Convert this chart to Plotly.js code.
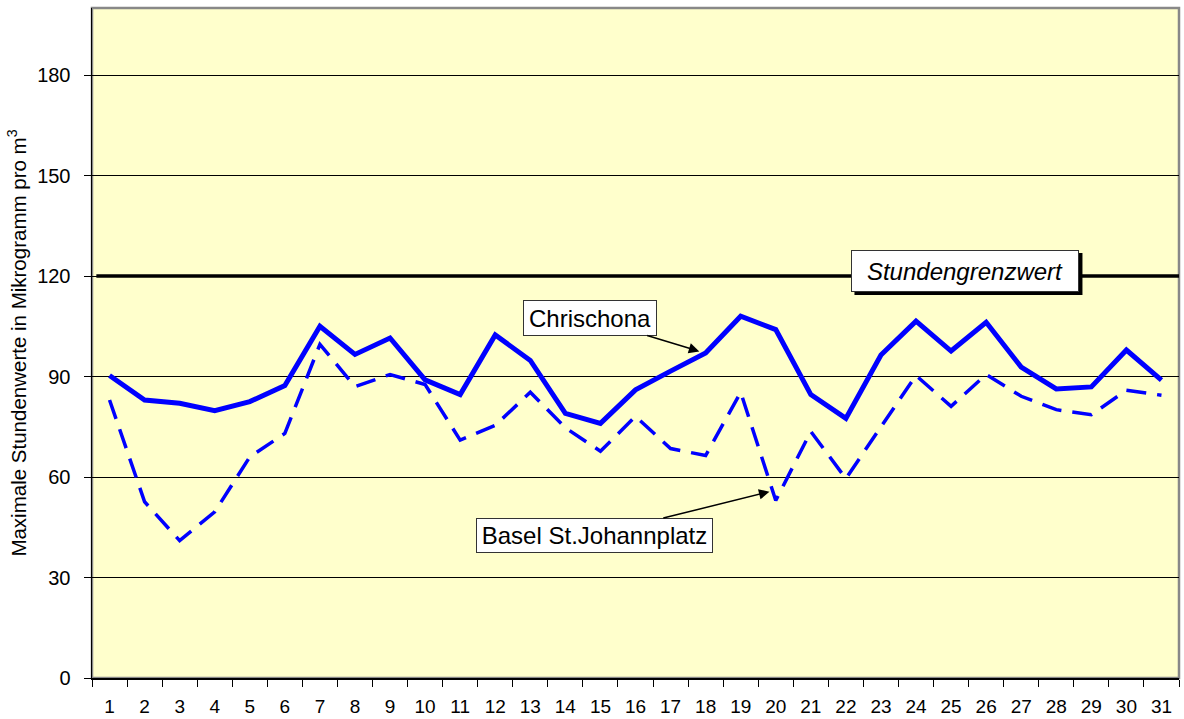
<!DOCTYPE html>
<html>
<head>
<meta charset="utf-8">
<script src="https://cdn.plot.ly/plotly-3.0.1.min.js"></script>
<style>html,body{margin:0;padding:0;background:#fff;}#chart{width:1184px;height:719px;}</style>
</head>
<body>
<div id="chart"></div>
<script>
const days = ['1','2','3','4','5','6','7','8','9','10','11','12','13','14','15','16','17','18','19','20','21','22','23','24','25','26','27','28','29','30','31'];
const chrischona = [90.3, 83, 82, 79.8, 82.5, 87.3, 105, 96.6, 101.5, 89, 84.6, 102.4, 94.8, 79, 76, 86, 91.6, 97, 108, 104, 84.6, 77.5, 96.4, 106.5, 97.6, 106.2, 92.8, 86.3, 86.9, 97.9, 88.9];
const basel = [83, 52.6, 41, 49.6, 66, 73, 99.6, 87, 90.6, 87.6, 71, 75.4, 85.3, 74.7, 67.7, 78.1, 68.5, 66.4, 85.3, 53, 73.6, 59.5, 75, 90.3, 81.1, 90.6, 84.1, 80.1, 78.6, 85.9, 84.4];
const limitValue = 120;
const limitLabel = 'Stundengrenzwert';
const yTitle = 'Maximale Stundenwerte in Mikrogramm pro m<sup>3</sup>';

const font = 'Liberation Sans, Arial, sans-serif';

const traces = [
  {x: days, y: basel, type: 'scatter', mode: 'lines', name: 'Basel St.Johannplatz',
   line: {color: '#0000FF', width: 3.5, dash: '20px,11px'}},
  {x: days, y: chrischona, type: 'scatter', mode: 'lines', name: 'Chrischona',
   line: {color: '#0000FF', width: 5}}
];

const limitX = 24.41, limitY = 121.5;

const layout = {
  width: 1184, height: 719,
  margin: {l: 92, r: 5, t: 8, b: 41},
  paper_bgcolor: '#FFFFFF',
  plot_bgcolor: '#FFFFCC',
  showlegend: false,
  font: {family: font, size: 20, color: '#000'},
  xaxis: {
    type: 'category', range: [-0.5, 30.5], tickson: 'boundaries',
    ticks: 'outside', ticklen: 7, tickcolor: '#000', tickwidth: 1,
    showline: true, linecolor: '#000', linewidth: 1.5,
    showgrid: false, zeroline: false,
    tickfont: {family: font, size: 19, color: '#000'},
    ticklabelstandoff: 11
  },
  yaxis: {
    range: [0, 200], dtick: 30, tick0: 0,
    ticks: 'outside', ticklen: 7, tickcolor: '#000', tickwidth: 1,
    showline: true, linecolor: '#000', linewidth: 1.5,
    showgrid: true, gridcolor: '#000', gridwidth: 1,
    zeroline: false,
    tickfont: {family: font, size: 20, color: '#000'},
    ticklabelstandoff: 9,
    title: {text: yTitle, font: {family: font, size: 20.5, color: '#000'}, standoff: 5}
  },
  shapes: [
    {type: 'rect', xref: 'paper', yref: 'paper', x0: 0, x1: 1, y0: 0, y1: 1,
     line: {color: '#888888', width: 2.5}, layer: 'below'},
    {type: 'line', xref: 'paper', yref: 'y', x0: 0.004, x1: 1, y0: limitValue, y1: limitValue,
     line: {color: '#000', width: 3.5}, layer: 'above'},
    {type: 'rect', xref: 'x', yref: 'y', xsizemode: 'pixel', ysizemode: 'pixel',
     xanchor: limitX, yanchor: limitY, x0: -111, x1: 117, y0: -24, y1: 18,
     fillcolor: '#000', line: {color: '#000', width: 0}, layer: 'above'}
  ],
  annotations: [
    {xref: 'x', yref: 'y', x: 16.82, y: 97.5, ax: -109.6, ay: -33.4, axref: 'pixel', ayref: 'pixel',
     text: 'Chrischona', showarrow: true, arrowhead: 2, arrowsize: 1.4, arrowwidth: 1.5, arrowcolor: '#000',
     font: {family: font, size: 24, color: '#000'},
     bgcolor: '#FFFFFF', bordercolor: '#333', borderwidth: 1, borderpad: 0, width: 132, height: 34},
    {xref: 'x', yref: 'y', x: 18.82, y: 55.6, ax: -174.8, ay: 43.3, axref: 'pixel', ayref: 'pixel',
     text: 'Basel St.Johannplatz', showarrow: true, arrowhead: 2, arrowsize: 1.4, arrowwidth: 1.5, arrowcolor: '#000',
     font: {family: font, size: 24, color: '#000'},
     bgcolor: '#FFFFFF', bordercolor: '#333', borderwidth: 1, borderpad: 0, width: 235, height: 33},
    {xref: 'x', yref: 'y', x: limitX, y: limitY, showarrow: false,
     text: '<i>' + limitLabel + '</i>', font: {family: font, size: 24, color: '#000'},
     bgcolor: '#FFFFFF', bordercolor: '#333', borderwidth: 1, borderpad: 0, width: 226, height: 40}
  ]
};

Plotly.newPlot('chart', traces, layout, {displayModeBar: false, staticPlot: true});
</script>
</body>
</html>
